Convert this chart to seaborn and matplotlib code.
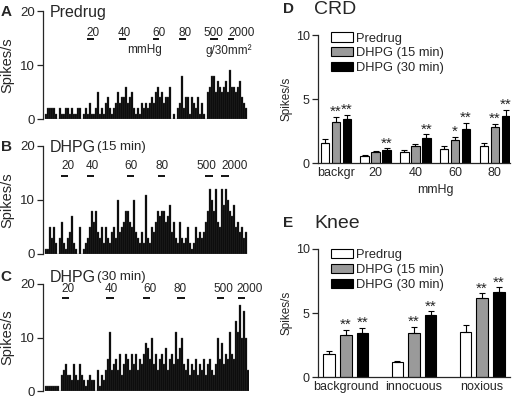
import numpy as np
import pandas as pd
import matplotlib
matplotlib.use("Agg")
import matplotlib.pyplot as plt
import seaborn as sns

# ---------------- data ----------------
predrug_rate = [1, 2, 2, 2, 2, 1, 0, 2, 1, 1, 2, 2, 1, 2, 1, 1, 2, 2, 0, 1,
                2, 1, 3, 1, 1, 2, 5, 1, 2, 1, 3, 4, 2, 1, 2, 3, 5, 3, 4, 4,
                6, 3, 4, 5, 2, 1, 2, 1, 3, 2, 3, 2, 3, 4, 3, 5, 6, 4, 5, 3,
                4, 4, 6, 0, 1, 0, 2, 3, 8, 2, 4, 4, 1, 4, 3, 2, 4, 1, 3, 1,
                0, 5, 6, 8, 8, 5, 7, 6, 5, 6, 7, 5, 9, 6, 6, 5, 6, 7, 4, 3, 2]
dhpg15_rate = [1, 1, 5, 3, 5, 2, 0, 3, 6, 2, 1, 3, 4, 7, 2, 1, 0, 5, 0, 1,
               2, 3, 5, 8, 6, 8, 4, 3, 5, 2, 5, 3, 2, 4, 5, 3, 10, 4, 5, 6,
               8, 8, 6, 5, 10, 4, 3, 2, 4, 2, 11, 3, 2, 5, 4, 6, 8, 7, 8, 8,
               6, 7, 9, 4, 6, 3, 2, 6, 3, 2, 3, 5, 2, 1, 2, 5, 3, 4, 3, 4,
               6, 8, 12, 10, 8, 12, 6, 5, 12, 9, 12, 10, 8, 7, 9, 5, 6, 4, 5, 3, 4]
dhpg30_rate = [1, 1, 1, 1, 1, 1, 1, 0, 3, 4, 5, 3, 3, 2, 5, 3, 2, 5, 3, 2,
               1, 2, 3, 2, 2, 0, 4, 1, 3, 2, 4, 6, 11, 4, 5, 6, 4, 7, 3, 5,
               7, 6, 4, 7, 5, 7, 4, 6, 5, 7, 9, 8, 6, 10, 5, 7, 4, 6, 7, 5,
               8, 4, 6, 7, 5, 11, 6, 8, 10, 5, 4, 6, 3, 5, 4, 6, 3, 5, 4, 6,
               3, 5, 6, 4, 3, 5, 10, 6, 9, 5, 7, 6, 11, 7, 6, 13, 11, 16, 10, 15, 10, 4]

# stimulus markers: (label, text-left bin, bar start bin, bar end bin)
stim_A = [("20", 20, 20.5, 24), ("40", 36, 36.5, 40), ("60", 53, 53.5, 56.5),
          ("80", 66.5, 66.5, 70), ("500", 78.5, 82, 86), ("2000", 91, 91, 94)]
stim_B = [("20", 7.5, 7.5, 11), ("40", 20, 20.5, 24), ("60", 39, 40.5, 44),
          ("80", 55, 56, 59.5), ("500", 75, 79.5, 83.5), ("2000", 87.5, 87.5, 91.5)]
stim_C = [("20", 7.5, 8, 11.5), ("40", 29.5, 30, 34), ("60", 48.5, 48.5, 52),
          ("80", 64, 65.5, 69.5), ("500", 83.5, 85.5, 89), ("2000", 95, 96, 99.5)]

groups = ["Predrug", "DHPG (15 min)", "DHPG (30 min)"]

crd_cats = ["backgr", "20", "40", "60", "80"]
crd_mean = {"Predrug": [1.55, 0.57, 0.83, 1.11, 1.35],
            "DHPG (15 min)": [3.24, 0.83, 1.30, 1.81, 2.80],
            "DHPG (30 min)": [3.42, 1.01, 1.92, 2.67, 3.68]}
crd_sem = {"Predrug": [0.30, 0.08, 0.15, 0.19, 0.20],
           "DHPG (15 min)": [0.38, 0.10, 0.18, 0.21, 0.26],
           "DHPG (30 min)": [0.34, 0.13, 0.33, 0.44, 0.47]}
crd_sig = {"Predrug": ["", "", "", "", ""],
           "DHPG (15 min)": ["**", "", "", "*", "**"],
           "DHPG (30 min)": ["**", "**", "**", "**", "**"]}

knee_cats = ["background", "innocuous", "noxious"]
knee_mean = {"Predrug": [1.83, 1.17, 3.50],
             "DHPG (15 min)": [3.32, 3.47, 6.14],
             "DHPG (30 min)": [3.47, 4.83, 6.66]}
knee_sem = {"Predrug": [0.21, 0.08, 0.55],
            "DHPG (15 min)": [0.34, 0.45, 0.39],
            "DHPG (30 min)": [0.37, 0.31, 0.34]}
knee_sig = {"Predrug": ["", "", ""],
            "DHPG (15 min)": ["**", "**", "**"],
            "DHPG (30 min)": ["**", "**", "**"]}

# ---------------- style ----------------
sns.set_style("ticks")
plt.rcParams["font.family"] = ["Liberation Sans", "DejaVu Sans"]
plt.rcParams["axes.linewidth"] = 0.9
plt.rcParams["xtick.major.width"] = 0.9
plt.rcParams["ytick.major.width"] = 0.9

fig = plt.figure(figsize=(5.13, 4.01), dpi=100)
W, H = 513.0, 401.0


def px_axes(left, top, right, bottom):
    return fig.add_axes([left / W, 1 - bottom / H, (right - left) / W, (bottom - top) / H])


def hist_panel(ax, rate, stim, letter, title, subtitle, title_y, lab_y, bar_y, extra=None):
    bins = np.arange(len(rate))
    df = pd.DataFrame({"bin": bins, "rate": rate})
    sns.barplot(data=df, x="bin", y="rate", color="black", width=1.0, native_scale=True,
                linewidth=0.25, edgecolor="#505050", saturation=1, errorbar=None, ax=ax)
    ax.set_xlim(-1.5, 101.5)
    ax.set_ylim(0, 20)
    ax.set_yticks([0, 10, 20])
    ax.tick_params(axis="y", labelsize=9.5, length=4, pad=2, direction="out")
    ax.set_xticks([])
    ax.set_xlabel("")
    ax.set_ylabel("Spikes/s", fontsize=10.5, labelpad=4)
    for s in ["top", "right", "bottom"]:
        ax.spines[s].set_visible(False)
    tr = ax.get_xaxis_transform()
    for lab, tx, b0, b1 in stim:
        ax.text(tx, lab_y, lab, transform=tr, fontsize=8.5, ha="left", va="bottom")
        ax.plot([b0, b1], [bar_y, bar_y], transform=tr, color="black", lw=1.3,
                solid_capstyle="butt", clip_on=False)
    ax.text(0.034, title_y, title, transform=ax.transAxes, fontsize=11.5, ha="left", va="center")
    if subtitle:
        ax.text(0.262, title_y, subtitle, transform=ax.transAxes, fontsize=9.5, ha="left", va="center")
    ax.text(-0.205, title_y, letter, transform=ax.transAxes, fontsize=11, fontweight="bold",
            ha="left", va="center")
    if extra:
        for txt, tx, ty in extra:
            ax.text(tx, ty, txt, transform=tr, fontsize=8.5, ha="left", va="center")


axA = px_axes(43, 11, 249, 119)
hist_panel(axA, predrug_rate, stim_A, "A", "Predrug", None, 0.99, 0.745, 0.74,
           extra=[("mmHg", 40.5, 0.635), ("g/30mm²", 80, 0.635)])
axB = px_axes(43, 146, 249, 254)
hist_panel(axB, dhpg15_rate, stim_B, "B", "DHPG", "(15 min)", 0.99, 0.755, 0.725)
axC = px_axes(43, 284, 249, 391)
hist_panel(axC, dhpg30_rate, stim_C, "C", "DHPG", "(30 min)", 1.065, 0.895, 0.87)

palette = {"Predrug": "white", "DHPG (15 min)": "#9a9a9a", "DHPG (30 min)": "black"}


def group_panel(ax, cats, mean, sem, sig, width, gap, xlim, letter, title, leg_y):
    rows = []
    for g in groups:
        for c, m in zip(cats, mean[g]):
            rows.append({"cond": c, "grp": g, "val": m})
    df = pd.DataFrame(rows)
    sns.barplot(data=df, x="cond", y="val", hue="grp", order=cats, hue_order=groups,
                palette=palette, edgecolor="black", linewidth=0.8, saturation=1,
                errorbar=None, width=width, gap=gap, ax=ax)
    for cont, g in zip(ax.containers, groups):
        for p, e, s in zip(cont.patches, sem[g], sig[g]):
            x = p.get_x() + p.get_width() / 2
            h = p.get_height()
            ax.errorbar([x], [h], yerr=[[0], [e]], fmt="none", ecolor="black",
                        elinewidth=0.8, capsize=2.2, capthick=0.8)
            if s:
                ax.annotate(s, (x, h + e), xytext=(0, -1.5), textcoords="offset points",
                            ha="center", va="bottom", fontsize=11)
    ax.set_xlim(*xlim)
    ax.set_ylim(0, 10)
    ax.set_yticks([0, 5, 10])
    ax.tick_params(axis="y", labelsize=9, length=4, pad=2)
    ax.tick_params(axis="x", labelsize=9, length=0, pad=3)
    ax.set_xlabel("")
    ax.set_ylabel("Spikes/s", fontsize=8.5, labelpad=2)
    for s in ["top", "right"]:
        ax.spines[s].set_visible(False)
    handles, labels = ax.get_legend_handles_labels()
    ax.legend(handles, labels, loc="upper left", bbox_to_anchor=(0.04, leg_y), frameon=False,
              fontsize=9.3, handlelength=1.7, handleheight=0.7, handletextpad=0.25,
              labelspacing=0.22, borderaxespad=0)
    ax.text(-0.18, 1.2, letter, transform=ax.transAxes, fontsize=11, fontweight="bold",
            ha="left", va="center")
    ax.text(-0.02, 1.2, title, transform=ax.transAxes, fontsize=14, ha="left", va="center")


axD = px_axes(318, 35, 510, 163)
group_panel(axD, crd_cats, crd_mean, crd_sem, crd_sig, 0.83, 0.245, (-0.45, 4.38), "D", "CRD", 1.06)
axD.text(2.5, -0.21, "mmHg", transform=axD.get_xaxis_transform(), fontsize=9, ha="center", va="center")

axE = px_axes(318, 249, 510, 377)
group_panel(axE, knee_cats, knee_mean, knee_sem, knee_sig, 0.73, 0.29, (-0.41, 2.41), "E", "Knee", 1.04)

fig.savefig("out.png", dpi=100)
